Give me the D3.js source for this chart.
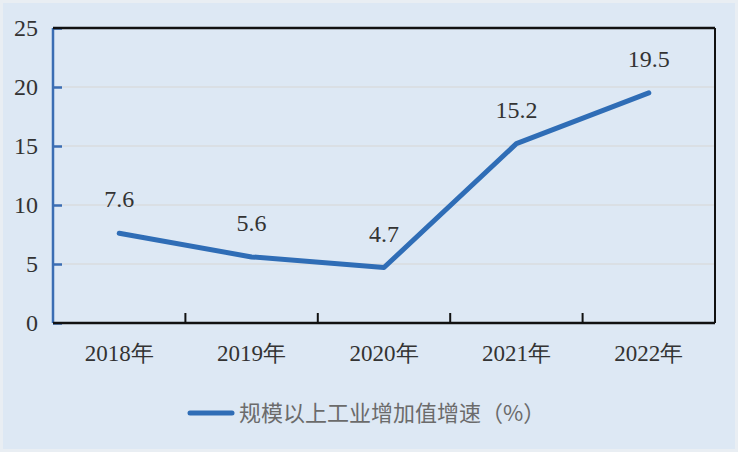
<!DOCTYPE html>
<html><head><meta charset="utf-8">
<script src="https://cdn.jsdelivr.net/npm/d3@7"></script>
</head>
<body style="margin:0;background:#e9eef3">
<svg id="chart" width="738" height="452" style="display:block"></svg>
<script>
const categories = ["2018年","2019年","2020年","2021年","2022年"];
const values = [7.6, 5.6, 4.7, 15.2, 19.5];
const yTicks = [0, 5, 10, 15, 20, 25];
const seriesName = "规模以上工业增加值增速（%）";

const SERIF = '"Liberation Serif"';
const svg = d3.select("#chart");
const W = 738, H = 452;
const m = {left: 53, right: 23, top: 28, bottom: 129};
const iw = W - m.left - m.right, ih = H - m.top - m.bottom;

svg.append("rect").attr("x",3).attr("y",3).attr("width",W-6).attr("height",H-6).attr("fill","#dde8f4");

const x = d3.scaleBand().domain(categories).range([0, iw]);
const y = d3.scaleLinear().domain([0, 25]).range([ih, 0]);

const g = svg.append("g").attr("transform",`translate(${m.left},${m.top})`);

g.append("g").selectAll("line").data(yTicks.filter(d=>d>0&&d<25)).join("line")
  .attr("x1",0).attr("x2",iw).attr("y1",d=>y(d)).attr("y2",d=>y(d))
  .attr("stroke","#d9dcdf").attr("stroke-width",1.5);

const ya = g.append("g").call(d3.axisRight(y).tickValues(yTicks).tickSize(9).tickFormat(""));
ya.select(".domain").remove();
ya.selectAll(".tick line").attr("stroke","#3a6db3").attr("stroke-width",2.5);
g.append("line").attr("x1",0).attr("x2",0).attr("y1",0).attr("y2",ih).attr("stroke","#3a6db3").attr("stroke-width",2.5);

g.append("g").selectAll("text").data(yTicks).join("text")
  .style("font-family",SERIF).attr("font-size",24)
  .attr("x",-15).attr("y",d=>y(d)).attr("dy","0.35em").attr("text-anchor","end")
  .attr("fill","#333")
  .text(d=>d);

g.append("line").attr("x1",0).attr("x2",iw).attr("y1",0).attr("y2",0).attr("stroke","#111").attr("stroke-width",2.5);
g.append("line").attr("x1",iw).attr("x2",iw).attr("y1",0).attr("y2",ih).attr("stroke","#111").attr("stroke-width",2);

g.append("g").selectAll("text").data(categories).join("text")
  .style("font-family",SERIF).attr("font-size",23)
  .attr("x",d=>x(d)+x.bandwidth()/2).attr("y",ih+38).attr("text-anchor","middle")
  .attr("fill","#333").text(d=>d);
g.append("line").attr("x1",0).attr("x2",iw).attr("y1",ih).attr("y2",ih).attr("stroke","#111").attr("stroke-width",2.5);
g.append("g").selectAll("line").data(categories.slice(1)).join("line")
  .attr("x1",d=>x(d)).attr("x2",d=>x(d)).attr("y1",ih).attr("y2",ih-10)
  .attr("stroke","#111").attr("stroke-width",2);

const line = d3.line().x((d,i)=>x(categories[i])+x.bandwidth()/2).y(d=>y(d));
g.append("path").datum(values).attr("d",line).attr("fill","none")
  .attr("stroke","#2f6db6").attr("stroke-width",5).attr("stroke-linejoin","round").attr("stroke-linecap","round");

g.append("g").selectAll("text").data(values).join("text")
  .style("font-family",SERIF).attr("font-size",24)
  .attr("x",(d,i)=>x(categories[i])+x.bandwidth()/2).attr("y",d=>y(d)-26)
  .attr("text-anchor","middle")
  .attr("fill","#333")
  .text(d=>d.toFixed(1));

const lg = svg.append("g");
lg.append("line").attr("x1",190).attr("x2",232).attr("y1",413).attr("y2",413)
  .attr("stroke","#2f6db6").attr("stroke-width",5).attr("stroke-linecap","round");
lg.append("text").attr("x",239).attr("y",413).attr("dy","0.36em")
  .style("font-family",'"Noto Sans CJK SC"').attr("font-size",22).attr("fill","#6b6b6b")
  .text(seriesName);
</script>
</body></html>
